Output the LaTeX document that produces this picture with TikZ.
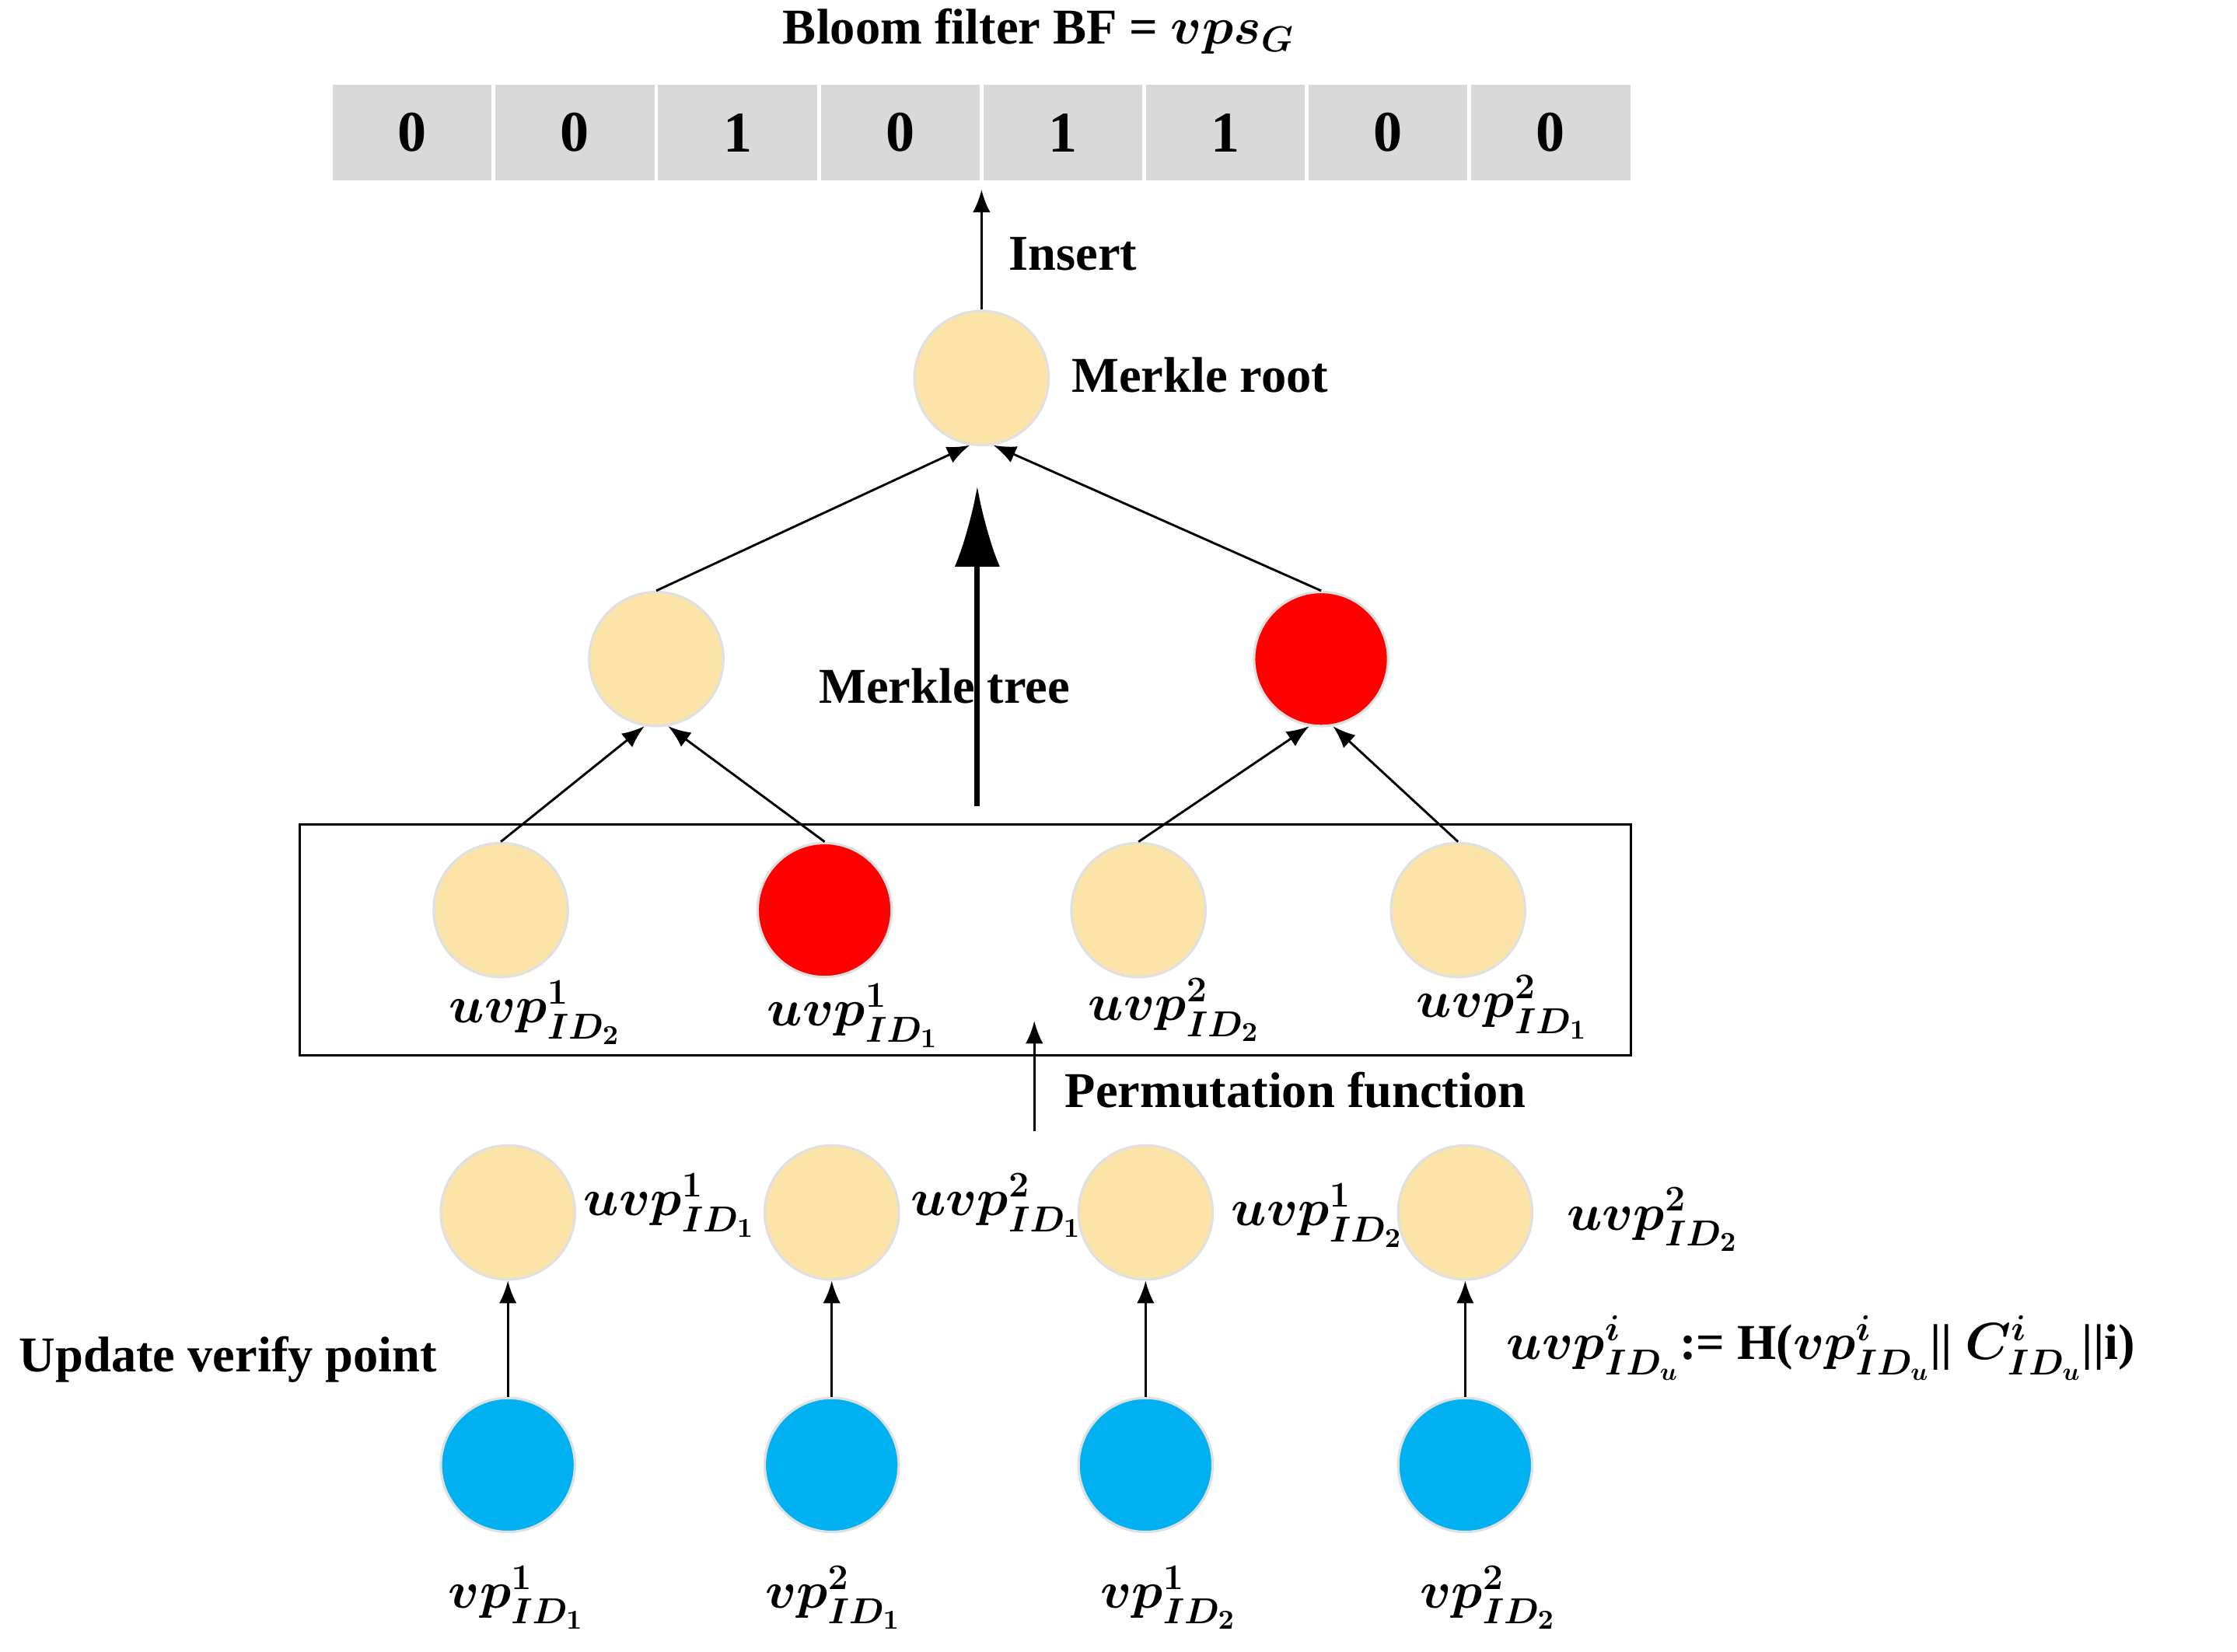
\documentclass[tikz,border=0pt]{standalone}
\usepackage{amsmath}
\usepackage{fontspec}
\setmainfont{Liberation Serif}
\usetikzlibrary{arrows.meta}
\definecolor{yel}{HTML}{FCE4A8}
\definecolor{rd}{HTML}{FF0000}
\definecolor{bl}{HTML}{00B0F0}
\definecolor{cellg}{HTML}{D9D9D9}
\begin{document}
\begin{tikzpicture}[x=0.02cm,y=-0.02cm,
  every node/.style={font=\fontsize{20}{23}\selectfont\bfseries},
  circ/.style={circle,minimum size=1.88cm,inner sep=0pt,draw=black!12,line width=1pt},
  Y/.style={circ,fill=yel},R/.style={circ,fill=rd},B/.style={circ,fill=bl},
  cell/.style={rectangle,fill=cellg,draw=white,line width=1.5pt,minimum width=2.28cm,minimum height=1.4cm,inner sep=0pt},
  ml/.style={font=\fontsize{22}{24}\selectfont},
  arr/.style={-{Latex[length=9pt,width=7pt]},line width=0.9pt}]
\useasboundingbox (0,0) rectangle (1568,1158);
\node at (728,22) {Bloom filter BF = $\boldsymbol{vps_G}$};
\foreach \v [count=\i] in {0,0,1,0,1,1,0,0}
  \node[cell] (c\i) at ({232+57+114*(\i-1)},93) {\fontsize{23}{25}\selectfont\bfseries \v};
\node[Y] (root) at (688,265) {};
\node[anchor=west] at (745,263) {Merkle root};
\coordinate (ins) at (688,133);
\draw[arr] (root.north) -- (ins);
\node at (752,178) {Insert};
\node[Y] (m1) at (460,462) {};
\node[R] (m2) at (926,462) {};
\draw[arr] (m1.north) -- (root.-100);
\draw[arr] (m2.north) -- (root.-80);
\coordinate (tb) at (685,565);
\draw[-{Latex[length=32pt,width=18pt]},line width=2.2pt,shorten >=16pt] (tb) -- (root.south -| tb);
\node at (662,481) {Merkle tree};
\node[draw,line width=0.9pt,minimum width=18.66cm,minimum height=3.24cm,inner sep=0pt] (box) at (676.5,659) {};
\node[Y] (l1) at (351,638) {};
\node[R] (l2) at (578,638) {};
\node[Y] (l3) at (798,638) {};
\node[Y] (l4) at (1022,638) {};
\node[ml] at (375,710) {$\boldsymbol{uvp^1_{ID_2}}$};
\node[ml] at (598,712) {$\boldsymbol{uvp^1_{ID_1}}$};
\node[ml] at (823,708) {$\boldsymbol{uvp^2_{ID_2}}$};
\node[ml] at (1053,706) {$\boldsymbol{uvp^2_{ID_1}}$};
\draw[arr] (l1.north) -- (m1.-100);
\draw[arr] (l2.north) -- (m1.-80);
\draw[arr] (l3.north) -- (m2.-100);
\draw[arr] (l4.north) -- (m2.-80);
\coordinate (pb) at (725,793);
\draw[arr] (pb) -- (box.south -| pb) -- ++(0,-25);
\node at (908,764) {Permutation function};
\foreach \x [count=\i] in {356,583,803,1027}{
  \node[Y] (u\i) at (\x,850) {};
  \node[B] (b\i) at (\x,1027) {};
  \draw[arr] (b\i.north) -- (u\i.south);}
\node[ml,anchor=west] at (403,845) {$\boldsymbol{uvp^1_{ID_1}}$};
\node[ml,anchor=west] at (632,845) {$\boldsymbol{uvp^2_{ID_1}}$};
\node[ml,anchor=west] at (857,852) {$\boldsymbol{uvp^1_{ID_2}}$};
\node[ml,anchor=west] at (1092,855) {$\boldsymbol{uvp^2_{ID_2}}$};
\node[ml] at (362,1120) {$\boldsymbol{vp^1_{ID_1}}$};
\node[ml] at (584,1120) {$\boldsymbol{vp^2_{ID_1}}$};
\node[ml] at (819,1120) {$\boldsymbol{vp^1_{ID_2}}$};
\node[ml] at (1043,1120) {$\boldsymbol{vp^2_{ID_2}}$};
\node at (160,953) {Update verify point};
\node[font=\fontsize{20}{22}\selectfont,anchor=west] at (1050,945) {$\boldsymbol{uvp^i_{ID_u}}$\textbf{:= H(}$\boldsymbol{vp^i_{ID_u}}$\textbf{||} $\boldsymbol{C^i_{ID_u}}$\textbf{||i)}};
\end{tikzpicture}
\end{document}
